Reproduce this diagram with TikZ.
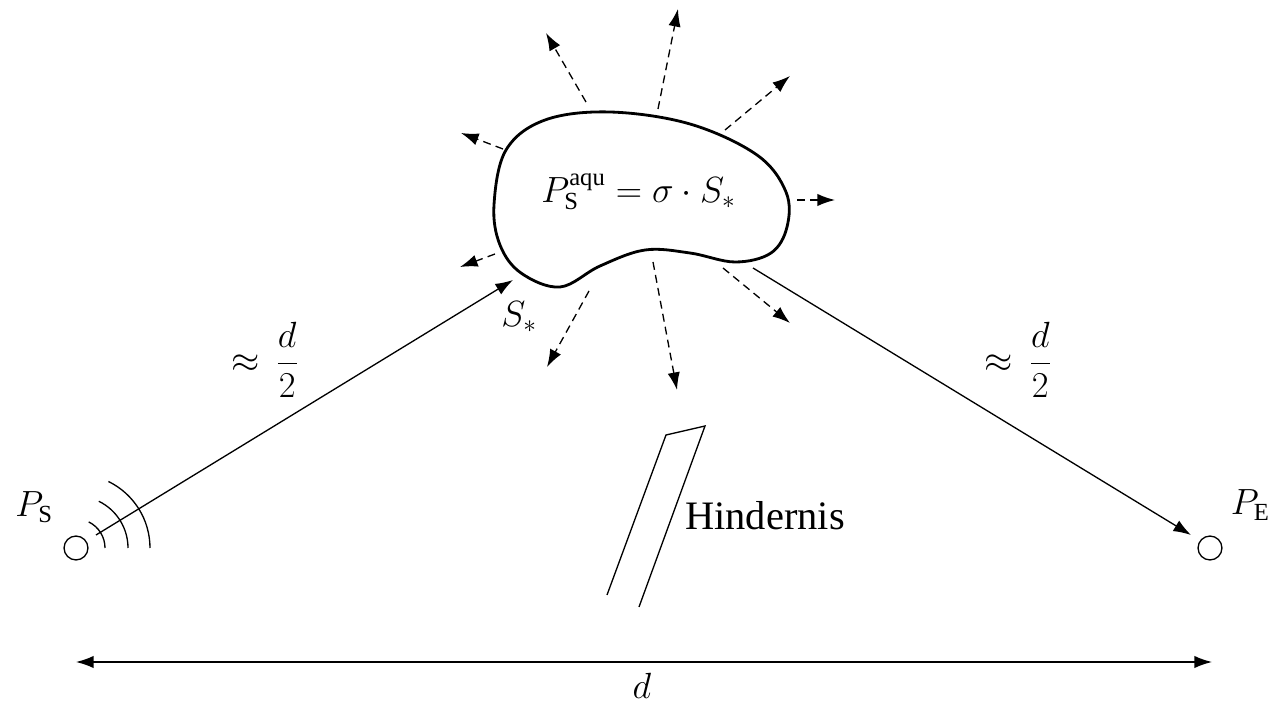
\documentclass[tikz,border=0pt]{standalone}
\usepackage{fontspec}
\setmainfont{Liberation Serif}
\usetikzlibrary{arrows.meta}
\begin{document}
\begin{tikzpicture}[x=0.02cm,y=0.02cm,
  thinline/.style={line width=0.75pt},
  tipline/.style={line width=0.75pt,-{Latex[length=10pt,width=7pt]}},
  ray/.style={line width=0.75pt,dash pattern=on 4.5pt off 3pt,-{Latex[length=10pt,width=7pt]}},
  lbl/.style={font=\fontsize{23}{28}\selectfont,inner sep=0pt},
  mlbl/.style={font=\fontsize{20}{24}\selectfont,inner sep=0pt},
  station/.style={circle,draw,line width=0.75pt,minimum size=13.6pt,inner sep=0pt}]
\path[use as bounding box] (0,0) rectangle (1272,-705);
% stations
\node[station] (ps) at (76,-548) {};
\node[station] (pe) at (1210,-548) {};
\node[mlbl,anchor=base west] (psl) at (15,-517) {$P_{\mathrm{S}}$};
\node[mlbl,anchor=base east] (pel) at (1270,-515) {$P_{\mathrm{E}}$};
% waves
\foreach \r in {29,52,74}{
  \draw[thinline] (ps.center) ++(\r,0) arc[start angle=0,end angle=64,radius=\r];
}
% blob
\draw[line width=1.6pt] plot[smooth cycle,tension=0.6] coordinates {
 (494,-205) (506,-150) (545,-120) (610,-112) (690,-124) (757,-155) (786,-192)
 (787,-227) (771,-253) (735,-262) (690,-253) (645,-250) (600,-266) (560,-287)
 (521,-273) (500,-245)};
\node[mlbl,anchor=base west] (formula) at (541,-203) {$P_{\mathrm{S}}^{\mathrm{aqu}} = \sigma\cdot S_*$};
% incoming / outgoing
\coordinate (sstart) at (96,-535);
\coordinate (sin) at (513,-280);
\coordinate (eout) at (753,-268);
\coordinate (eend) at (1191,-535);
\draw[tipline] (sstart) -- (sin);
\draw[tipline] (eout) -- (eend);
\node[mlbl,anchor=base west] (sstar) at (501,-327) {$S_*$};
\node[mlbl,anchor=west] (dl2) at (231,-360) {$\displaystyle\approx\,\frac{d}{2}$};
\node[mlbl,anchor=west] (dr2) at (984,-360) {$\displaystyle\approx\,\frac{d}{2}$};
% scattered rays
\foreach \a/\b/\n in {586/102/1,658/109/2,725/130/3,797/200/4,503/149/5,495/254/6,589/291/7,653/262/8,723/268/9}{
  \coordinate (rs\n) at (\a,-\b);
}
\foreach \a/\b/\n in {546/33/1,678/9/2,790/76/3,835/200/4,461/133/5,460/267/6,547/367/7,677/390/8,790/323/9}{
  \coordinate (re\n) at (\a,-\b);
}
\foreach \n in {1,...,9}{\draw[ray] (rs\n) -- (re\n);}
% obstacle
\coordinate (h1) at (607,-595);
\coordinate (h2) at (666,-435);
\coordinate (h3) at (705,-426);
\coordinate (h4) at (639,-607);
\draw[thinline] (h1) -- (h2) -- (h3) -- (h4);
\node[lbl,anchor=base west] (hind) at (685,-530) {Hindernis};
% distance
\coordinate (dl) at (76,-662);
\coordinate (dr) at (1212,-662);
\draw[line width=0.75pt,{Latex[length=10pt,width=7pt]}-{Latex[length=10pt,width=7pt]}] (dl) -- (dr);
\node[mlbl,anchor=base] (dlab) at (642,-699) {$d$};
\end{tikzpicture}
\end{document}
